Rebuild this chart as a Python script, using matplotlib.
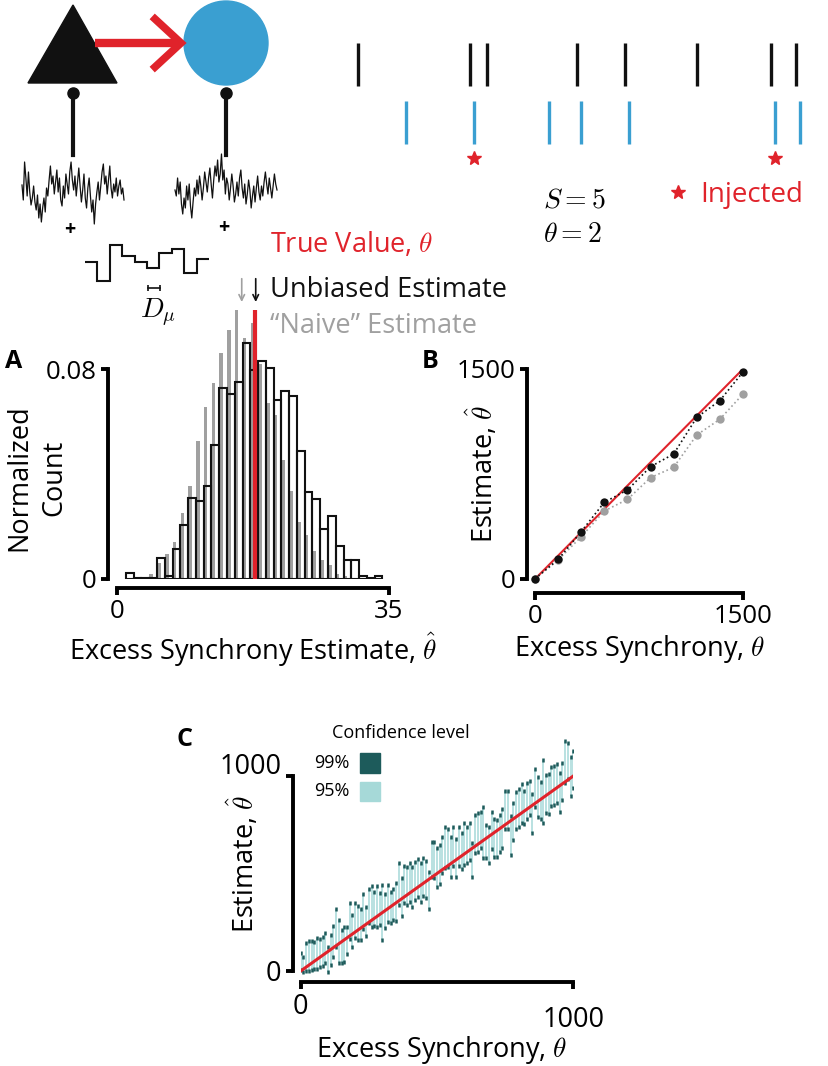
import numpy as np
import matplotlib.pyplot as plt
from matplotlib.patches import Polygon, Circle, Rectangle
from matplotlib.transforms import ScaledTranslation

plt.rcParams['font.family'] = ['Open Sans', 'DejaVu Sans']
plt.rcParams['mathtext.fontset'] = 'cm'

W, H = 829, 1066
RED = '#E0232B'
BLUE = '#3A9FD1'
GRAY = '#A0A0A0'
DARK = '#1D5B5B'
LIGHT = '#A6D9D8'

# ---- schematic data ----
left_trace = [5, -10, 28, 12, -6, 18, -2, -15, -8, 4, -12, -20, -5, -28, -14, -32, -18, -8, -22, 2,
              -6, 10, 24, 6, 14, -4, 8, 20, -2, 12, -10, -16, 4, -8, 16, 6, -4, 18, 28, 10,
              0, 14, -6, 8, 22, 4, -12, 0, 16, -8, -18, 2, 12, -6, -22, -10, -34, -14, -2, 8,
              -10, 4, 18, 26, 6, 14, -4, 10, 24, 2, -8, 6, -2, 12, -6, 4, 10, -4, 2, -10]
right_trace = [0, -6, 12, -4, 8, -14, -24, -8, -18, 4, -10, 6, -16, -28, -12, 2, -6, 10, -4, 14,
               4, -10, 2, 18, 8, -2, 12, 22, 6, -8, 10, 24, 14, 30, 8, 16, 36, 10, 20, -4,
               12, 6, -10, 2, 16, 4, -12, -4, 8, -6, 12, 20, 2, -8, 6, -14, -4, 10, 0, -18,
               -6, 4, -12, 2, 14, -2, -10, 4, -6, 8, 18, 6, -4, 12, 2, -8, 4, 16, 6, 0]
step_levels = [1.93, 0.0, 3.6, 2.5, 1.93, 1.27, 2.77, 3.17, 0.83, 2.17]

black_spikes = [3.7, 27.4, 31.0, 49.8, 60.0, 75.1, 90.7, 96.0]
blue_spikes = [14.0, 28.2, 43.9, 50.7, 60.9, 91.6, 96.8]
injected = [28.2, 91.6]

# ---- panel A data ----
bin_edges = np.arange(34) + 1.15
unbiased_hist = [0.0023, 0.0004, 0.0004, 0.0003, 0.008, 0.0013, 0.0116, 0.0207, 0.031, 0.0296,
                 0.0353, 0.0512, 0.0728, 0.0705, 0.0751, 0.090, 0.0795, 0.083, 0.0806, 0.0683,
                 0.0717, 0.0696, 0.0489, 0.0331, 0.0306, 0.0192, 0.0239, 0.0124, 0.0071, 0.0071,
                 0.0013, 0.0003, 0.0013]
naive_hist = [0.0, 0.0003, 0.0008, 0.0019, 0.006, 0.0095, 0.014, 0.025, 0.0354, 0.0525,
              0.0657, 0.0746, 0.086, 0.0949, 0.1025, 0.0917, 0.0977, 0.082, 0.0669, 0.0625,
              0.0453, 0.0337, 0.0218, 0.0168, 0.0108, 0.0072, 0.0053, 0.0019, 0.001, 0.0,
              0.0, 0.0, 0.0]
true_theta = 17.8
naive_mean = 16.05
unbiased_mean = 17.85

# ---- panel B data ----
theta_b = [0, 167, 333, 500, 667, 833, 1000, 1167, 1333, 1500]
unbiased_b = [2, 140, 338, 548, 636, 802, 893, 1155, 1274, 1479]
naive_b = [0, 136, 302, 486, 569, 724, 798, 1029, 1141, 1321]

# ---- panel C data ----
theta_c = np.arange(0, 1001, 10)
hi_c = [94, 74, 142, 154, 156, 147, 168, 164, 176, 197, 122, 185, 231, 316, 262, 210, 224, 224,
        347, 287, 347, 333, 318, 395, 330, 419, 436, 407, 436, 398, 441, 395, 441, 407, 419,
        450, 556, 475, 539, 535, 556, 535, 561, 573, 556, 578, 566, 509, 663, 663, 629, 646,
        689, 740, 727, 689, 737, 675, 737, 706, 757, 737, 757, 655, 800, 809, 817, 843, 749,
        740,
        817, 778, 774, 800, 829, 925, 925, 795, 863, 920, 932, 959, 925, 962, 976, 908, 1034,
        997, 971, 1082, 1005, 1010, 1045, 1051, 1062, 1014, 1068, 1181, 1171, 1099, 1130]
lo_c = [5, -3, 2, 2, 5, 9, 12, 19, 26, 43, -3, 31, 74, 125, 43, 43, 48, 87, 163, 122, 168,
        159, 159, 214, 180, 248, 224, 231, 224, 236, 159, 219, 253, 248, 262,
        258, 339, 282, 347, 339, 356, 330, 364, 378, 356, 385, 373, 316, 480, 475, 433, 446,
        501, 527, 532, 480, 539, 480, 539, 521, 544, 552, 569, 480, 607, 612, 629, 578, 578,
        552,
        624, 583, 583, 612, 629, 727, 727, 595, 672, 727, 737, 757, 754, 778, 800, 706, 843,
        788, 778, 761, 812, 805, 846, 851, 860, 817, 877, 966, 983, 898, 940]


def px_axes(left, top, right, bottom):
    return fig.add_axes([left / W, 1 - bottom / H, (right - left) / W, (bottom - top) / H])


def style_axes(ax, xb, yb, xoff, yoff, size):
    for s in ['top', 'right']:
        ax.spines[s].set_visible(False)
    ax.spines['left'].set_position(('outward', yoff * 0.72))
    ax.spines['bottom'].set_position(('outward', xoff * 0.72))
    ax.spines['left'].set_bounds(*yb)
    ax.spines['bottom'].set_bounds(*xb)
    for s in ['left', 'bottom']:
        ax.spines[s].set_linewidth(2.8)
    ax.set_facecolor('none')
    ax.tick_params(direction='out', length=5, width=2.8, labelsize=size, pad=3)


fig = plt.figure(figsize=(W / 100, H / 100), dpi=100)

# overlay in pixel coordinates for schematic and free text
ax0 = fig.add_axes([0, 0, 1, 1])
ax0.set_xlim(0, W)
ax0.set_ylim(H, 0)
ax0.axis('off')

ax0.add_patch(Polygon([(28, 83), (117, 83), (73, 5)], closed=True, color='#111111'))
ax0.add_patch(Circle((226, 43), 42, color=BLUE))
ax0.plot([95, 181], [43, 43], color=RED, lw=6, solid_capstyle='butt')
ax0.plot([155, 181, 155], [19, 43, 67], color=RED, lw=5.5, solid_joinstyle='miter')
for cx in [73, 226]:
    ax0.plot([cx, cx], [93, 155], color='#111111', lw=3)
    ax0.plot(cx, 93, 'o', color='#111111', ms=8)
ax0.plot(np.linspace(22, 124, len(left_trace)), 190 - np.array(left_trace), color='#111111', lw=0.9)
ax0.plot(np.linspace(175, 277, len(right_trace)), 190 - np.array(right_trace), color='#111111', lw=0.9)
ax0.text(70, 230, '+', fontsize=14, fontweight='bold', ha='center', va='center')
ax0.text(224, 228, '+', fontsize=14, fontweight='bold', ha='center', va='center')
ax0.stairs(281 - 10 * np.array(step_levels), np.linspace(85, 209, 11), baseline=None,
           color='#111111', lw=1.5)
ax0.plot([148, 160], [288, 288], color='#111111', lw=1.2, marker='|', ms=5, mew=1.2)
ax0.text(158, 312, r'$D_\mu$', fontsize=20, ha='center', va='center')

# raster
rax = px_axes(340, 30, 815, 170)
rax.set_xlim(0, 100)
rax.set_ylim(140, 0)
rax.axis('off')
rax.vlines(black_spikes, 12.7, 56, color='#111111', lw=2.4)
rax.vlines(blue_spikes, 70.7, 114, color=BLUE, lw=2.4)
rax.plot(injected, [128] * len(injected), ls='none', marker='*', ms=10, color=RED)
ax0.text(543, 207, r'$S = 5$', fontsize=20, ha='left', va='baseline')
ax0.text(543, 242, r'$\theta = 2$', fontsize=20, ha='left', va='baseline')
ax0.plot(678, 192, ls='none', marker='*', ms=10, color=RED)
ax0.text(700, 202, 'Injected', fontsize=20, color=RED, ha='left', va='baseline')

# histogram legend text
ax0.text(270, 252, r'True Value, $\theta$', fontsize=19.5, color=RED, va='baseline')
ax0.text(270, 297, 'Unbiased Estimate', fontsize=19.5, color='#111111', va='baseline')
ax0.text(270, 333, '\u201cNaive\u201d Estimate', fontsize=19.5, color=GRAY, va='baseline')

# ---- panel A ----
axa = px_axes(117, 251, 389, 579)
axa.set_xlim(0, 35)
axa.set_ylim(0, 0.125)
axa.bar(bin_edges[:-1] + 0.03, naive_hist, width=0.45, align='edge', color=GRAY, lw=0)
axa.bar(bin_edges[:-1], unbiased_hist, width=1.0, align='edge', fill=False,
        edgecolor='#111111', lw=1.5)
axa.plot([true_theta, true_theta], [0, 0.1025], color=RED, lw=3, solid_capstyle='butt')
axa.annotate('', xy=(naive_mean, 0.1045), xytext=(naive_mean, 0.1155),
             arrowprops=dict(arrowstyle='->', color=GRAY, lw=1.2))
axa.annotate('', xy=(unbiased_mean, 0.1045), xytext=(unbiased_mean, 0.1155),
             arrowprops=dict(arrowstyle='->', color='#111111', lw=1.2))
axa.set_xticks([0, 35], ['0', '35'])
axa.set_yticks([0, 0.08], ['0', '0.08'])
style_axes(axa, (0, 35), (0, 0.08), 9, 9, 18.5)
ax0.text(14, 361, 'A', fontsize=18, fontweight='bold', ha='center', va='center')
ax0.text(37, 478, 'Normalized\nCount', fontsize=19.5, rotation=90, ha='center', va='center',
         multialignment='center', linespacing=1.3)
ax0.text(253, 660, r'Excess Synchrony Estimate, $\hat{\theta}$', fontsize=19.5, ha='center',
         va='baseline')

# ---- panel B ----
axb = px_axes(535, 369, 743, 579)
axb.set_xlim(0, 1500)
axb.set_ylim(0, 1500)
axb.plot([0, 1500], [0, 1500], color=RED, lw=1.5, zorder=1)
axb.plot(theta_b, naive_b, color=GRAY, ls=':', lw=1.2, marker='o', ms=6, mec='none',
         clip_on=False, zorder=2)
axb.plot(theta_b, unbiased_b, color='#111111', ls=':', lw=1.2, marker='o', ms=6, mec='none',
         clip_on=False, zorder=3)
axb.set_xticks([0, 1500], ['0', '1500'])
axb.set_yticks([0, 1500], ['0', '1500'])
style_axes(axb, (0, 1500), (0, 1500), 14, 8, 18.5)
ax0.text(430, 362, 'B', fontsize=18, fontweight='bold', ha='center', va='center')
ax0.text(482, 474, r'Estimate, $\hat{\theta}$', fontsize=19.5, rotation=90, ha='center',
         va='center')
ax0.text(640, 656, r'Excess Synchrony, $\theta$', fontsize=19.5, ha='center', va='baseline')

# ---- panel C ----
axc = px_axes(300.7, 737, 573.3, 974.9)
axc.set_xlim(0, 1000)
axc.set_ylim(-20, 1200)
axc.vlines(theta_c, lo_c, hi_c, color=LIGHT, lw=1.1, zorder=1)
axc.plot(theta_c, hi_c, ls='none', marker='|', ms=3.5, mew=1.8, color=DARK, zorder=2)
axc.plot(theta_c, lo_c, ls='none', marker='|', ms=3.5, mew=1.8, color=DARK, zorder=2)
axc.plot([0, 1000], [0, 1000], color=RED, lw=2.2, zorder=3)
axc.set_xticks([0, 1000], ['0', '1000'])
axc.set_yticks([0, 1000], ['0', '1000'])
style_axes(axc, (0, 1000), (0, 1000), 7, 8, 19.5)
lab = axc.get_yticklabels()[1]
lab.set_transform(lab.get_transform() + ScaledTranslation(0, 0.13, fig.dpi_scale_trans))
lab = axc.get_xticklabels()[1]
lab.set_transform(lab.get_transform() + ScaledTranslation(0, -0.13, fig.dpi_scale_trans))
ax0.text(185, 739, 'C', fontsize=18, fontweight='bold', ha='center', va='center')
ax0.text(243, 864, r'Estimate, $\hat{\theta}$', fontsize=19.5, rotation=90, ha='center',
         va='center')
ax0.text(442, 1057, r'Excess Synchrony, $\theta$', fontsize=19.5, ha='center', va='baseline')

# confidence legend
ax0.text(401, 733, 'Confidence level', fontsize=13, ha='center', va='center')
ax0.text(350, 763, '99%', fontsize=13, ha='right', va='center')
ax0.text(350, 791, '95%', fontsize=13, ha='right', va='center')
ax0.add_patch(Rectangle((360, 753), 20, 20, color=DARK))
ax0.add_patch(Rectangle((360, 782), 20, 19, color=LIGHT))

fig.savefig('out.png', dpi=100)
